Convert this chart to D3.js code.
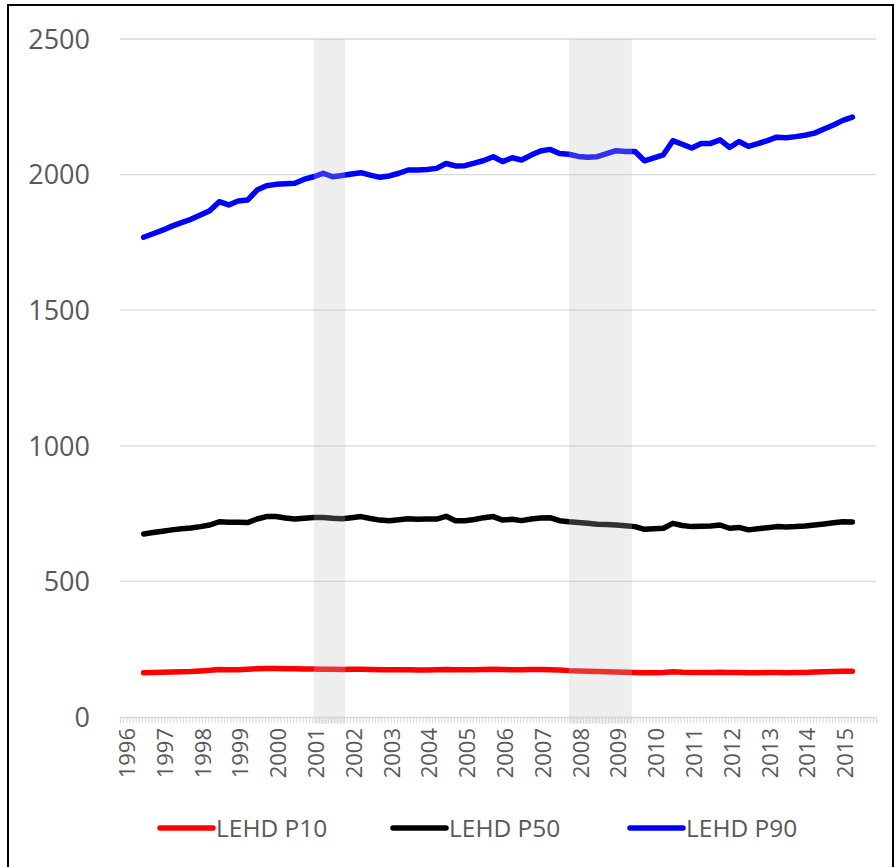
<!DOCTYPE html>
<html>
<head>
<meta charset="utf-8">
<script src="https://cdn.jsdelivr.net/npm/d3@7/dist/d3.min.js"></script>
<style>
  html, body { margin: 0; padding: 0; background: #fff; }
  svg { display: block; font-family: "Open Sans", "Noto Sans", sans-serif; }
</style>
</head>
<body>
<svg id="chart" width="896" height="867"></svg>
<script>
// ---------------- DATA ----------------
const quarters = [
  "1996Q3","1996Q4","1997Q1","1997Q2","1997Q3","1997Q4","1998Q1","1998Q2","1998Q3","1998Q4",
  "1999Q1","1999Q2","1999Q3","1999Q4","2000Q1","2000Q2","2000Q3","2000Q4","2001Q1","2001Q2",
  "2001Q3","2001Q4","2002Q1","2002Q2","2002Q3","2002Q4","2003Q1","2003Q2","2003Q3","2003Q4",
  "2004Q1","2004Q2","2004Q3","2004Q4","2005Q1","2005Q2","2005Q3","2005Q4","2006Q1","2006Q2",
  "2006Q3","2006Q4","2007Q1","2007Q2","2007Q3","2007Q4","2008Q1","2008Q2","2008Q3","2008Q4",
  "2009Q1","2009Q2","2009Q3","2009Q4","2010Q1","2010Q2","2010Q3","2010Q4","2011Q1","2011Q2",
  "2011Q3","2011Q4","2012Q1","2012Q2","2012Q3","2012Q4","2013Q1","2013Q2","2013Q3","2013Q4",
  "2014Q1","2014Q2","2014Q3","2014Q4","2015Q1","2015Q2"
];
const lehdP10 = [
  163,164,165,166,167,168,170,172,175,174,
  174,176,178,179,179,178,178,177,177,176,
  176,175,176,176,175,174,174,174,174,173,
  173,174,175,174,174,174,175,176,175,174,
  174,175,175,174,173,171,170,169,168,167,
  166,165,164,163,163,164,167,165,164,164,
  164,165,164,164,163,163,164,164,163,164,
  164,166,167,168,169,169
];
const lehdP50 = [
  675,680,685,690,694,697,702,708,720,718,
  718,717,730,739,739,734,730,733,736,736,
  733,731,735,739,732,726,724,727,731,729,
  730,730,740,724,724,728,735,739,726,729,
  724,730,734,735,724,720,717,714,711,710,
  708,705,702,692,694,696,714,706,702,703,
  704,708,696,699,690,694,698,702,701,702,
  704,708,712,716,720,719
];
const lehdP90 = [
  1769,1782,1795,1810,1823,1835,1851,1867,1900,1888,
  1903,1906,1943,1959,1964,1966,1968,1983,1992,2005,
  1992,1997,2002,2007,1998,1990,1995,2005,2017,2017,
  2019,2023,2041,2032,2033,2042,2052,2066,2048,2062,
  2054,2072,2087,2093,2078,2075,2067,2064,2066,2077,
  2088,2085,2085,2051,2062,2073,2125,2112,2098,2115,
  2115,2128,2100,2122,2104,2114,2125,2138,2136,2140,
  2145,2153,2168,2183,2200,2212
];
const yearLabels = ["1996","1997","1998","1999","2000","2001","2002","2003","2004","2005",
                    "2006","2007","2008","2009","2010","2011","2012","2013","2014","2015"];
const yTicks = [0, 500, 1000, 1500, 2000, 2500];
const recessions = [["2001-03","2001-11"], ["2007-12","2009-06"]];
const seriesNames = ["LEHD P10", "LEHD P50", "LEHD P90"];
const seriesColors = ["#ff0000", "#000000", "#0000ff"];

// ---------------- HELPERS ----------------
const monthIndex = s => { const [y, m] = s.split("-").map(Number); return (y - 1996) * 12 + (m - 1); };
const quarterMonth = s => { const y = +s.slice(0, 4), q = +s.slice(5); return (y - 1996) * 12 + (q - 1) * 3 + 1.5; };

// ---------------- LAYOUT ----------------
const svg = d3.select("#chart");
const plot = { left: 120, right: 876, top: 39, bottom: 717 };
const x = d3.scaleLinear().domain([0, 240]).range([plot.left, plot.right]);
const y = d3.scaleLinear().domain([0, 2500]).range([plot.bottom, plot.top]);

// outer frame (bottom edge lies just outside the view, as in the reference)
svg.append("rect").attr("x", 8).attr("y", 5).attr("width", 885).attr("height", 870)
  .attr("fill", "#fff").attr("stroke", "#000").attr("stroke-width", 2);

// gridlines
svg.append("g").selectAll("line").data(yTicks.filter(d => d > 0)).join("line")
  .attr("x1", plot.left).attr("x2", plot.right)
  .attr("y1", d => y(d)).attr("y2", d => y(d))
  .attr("stroke", "#d9d9d9").attr("stroke-width", 1.3);

// y labels
svg.append("g").selectAll("text").data(yTicks).join("text")
  .attr("x", 90).attr("y", d => y(d)).attr("dy", "0.36em")
  .attr("text-anchor", "end").attr("fill", "#595959").attr("font-size", 27)
  .text(d => d);

// x axis with monthly minor ticks
const xAxis = d3.axisBottom(x).tickValues(d3.range(0, 241)).tickSize(6).tickFormat("");
const gx = svg.append("g").attr("transform", `translate(0,${plot.bottom})`).call(xAxis);
gx.select(".domain").attr("stroke", "#d9d9d9").attr("stroke-width", 1.5);
gx.selectAll(".tick line").attr("stroke", "#d9d9d9").attr("stroke-width", 1);

// year labels (rotated)
svg.append("g").selectAll("text").data(yearLabels).join("text")
  .attr("transform", (d, i) => `translate(${x(i * 12) + 6},${plot.bottom + 11}) rotate(-90)`)
  .attr("text-anchor", "end").attr("dominant-baseline", "central")
  .attr("fill", "#595959").attr("font-size", 22)
  .text(d => d);

// lines
const line = d3.line().x((d, i) => x(quarterMonth(quarters[i]))).y(d => y(d)).curve(d3.curveLinear);
[lehdP10, lehdP50, lehdP90].forEach((s, j) => {
  svg.append("path").datum(s).attr("d", line)
    .attr("fill", "none").attr("stroke", seriesColors[j]).attr("stroke-width", 5.5)
    .attr("stroke-linejoin", "round").attr("stroke-linecap", "round");
});

// recession shading (semi-transparent overlay, drawn above lines)
svg.append("g").selectAll("rect").data(recessions).join("rect")
  .attr("x", d => x(monthIndex(d[0]) - 0.5))
  .attr("width", d => x(monthIndex(d[1]) + 1.5) - x(monthIndex(d[0]) - 0.5))
  .attr("y", plot.top).attr("height", plot.bottom + 7 - plot.top)
  .attr("fill", "rgb(190,190,190)").attr("fill-opacity", 0.26);

// legend
const legendX = [160, 393, 630];
const lg = svg.append("g").selectAll("g").data(seriesNames).join("g")
  .attr("transform", (d, i) => `translate(${legendX[i]},828)`);
lg.append("line").attr("x1", 0).attr("x2", 53).attr("y1", 0).attr("y2", 0)
  .attr("stroke", (d, i) => seriesColors[i]).attr("stroke-width", 5.5).attr("stroke-linecap", "round");
lg.append("text").attr("x", 56).attr("y", 0).attr("dy", "0.36em")
  .attr("fill", "#595959").attr("font-size", 24.5).text(d => d);
</script>
</body>
</html>
